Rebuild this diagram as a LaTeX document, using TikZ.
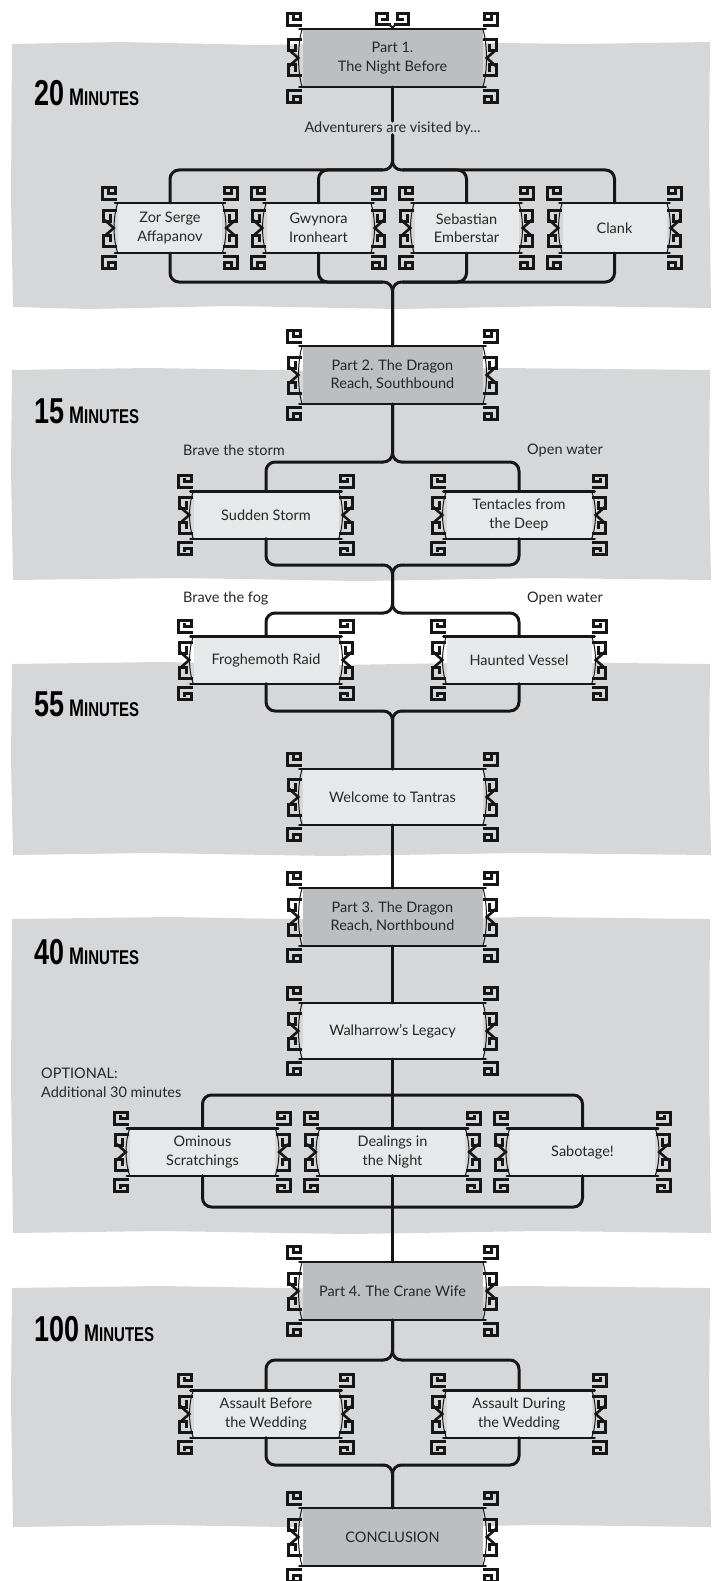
\documentclass[tikz,border=0pt]{standalone}
\usepackage{fontspec}
\setmainfont{Lato}
\newfontfamily\headfont[FakeStretch=0.75]{Liberation Sans}
\usetikzlibrary{calc}
\definecolor{band}{RGB}{214,215,217}
\definecolor{partfill}{RGB}{189,190,192}
\definecolor{lightfill}{RGB}{231,232,233}
\definecolor{ink}{RGB}{22,22,22}
\definecolor{txt}{RGB}{38,38,38}
\tikzset{
  conn/.style={line width=3pt, draw=ink, rounded corners=9pt, line cap=round},
  key/.style={line width=3pt, draw=ink, line join=miter, line cap=rect},
  edgeline/.style={line width=2.4pt, draw=ink, line cap=round},
  sideline/.style={line width=1pt, draw=ink},
  boxtext/.style={align=center, inner sep=0pt, text=txt, font=\fontsize{14.5}{18.5}\selectfont},
  partbox/.style={boxtext, rectangle, fill=partfill, minimum width=180pt, minimum height=58pt},
  widebox/.style={boxtext, rectangle, fill=lightfill, minimum width=180pt, minimum height=56pt},
  midbox/.style={boxtext, rectangle, fill=lightfill, minimum width=145pt, minimum height=47pt},
  smallbox/.style={boxtext, rectangle, fill=lightfill, minimum width=104pt, minimum height=50pt},
  lab/.style={inner sep=0pt, text=txt, font=\fontsize{14.5}{19}\selectfont, align=left},
  timelab/.style={inner sep=0pt, text=black, anchor=base west, font=\headfont\bfseries},
  cornerkey/.pic={\draw[key] (-2,-3.5) -- (-15,-3.5) -- (-15,-15.5) -- (-2,-15.5) -- (-2,-9.5) -- (-9,-9.5) -- (-9,-12);},
  sidekey/.pic={
    \draw[key] (-2,-18) -- (-14,-18) -- (-14,-7) -- (-7,-7) -- (-7,-12.5);
    \draw[key] (-2,18) -- (-14,18) -- (-14,7) -- (-7,7) -- (-7,12.5);
    \draw[key, line width=2.6pt] (-12,-7) -- (-4,0) -- (-12,7);},
  topkey/.pic={
    \draw[key] (3,-4) -- (16,-4) -- (16,-15.5) -- (5,-15.5) -- (5,-9.5) -- (10,-9.5);
    \draw[key] (-3,-4) -- (-16,-4) -- (-16,-15.5) -- (-5,-15.5) -- (-5,-9.5) -- (-10,-9.5);
    \draw[key, line width=2pt] (-3,-4) -- (0,-1) -- (3,-4);}
}
\newcommand\ornframe[1]{%
  \draw[edgeline] ($(#1.north west)+(-3,0)$) -- ($(#1.north east)+(3,0)$);
  \draw[edgeline] ($(#1.south west)+(-3,0)$) -- ($(#1.south east)+(3,0)$);
  \draw[sideline] (#1.north west) .. controls +(-5,14) and +(-5,-14) .. (#1.south west);
  \draw[sideline] (#1.north east) .. controls +(5,14) and +(5,-14) .. (#1.south east);
  \pic at (#1.north west) {cornerkey};
  \pic[xscale=-1] at (#1.north east) {cornerkey};
  \pic[yscale=-1] at (#1.south west) {cornerkey};
  \pic[xscale=-1,yscale=-1] at (#1.south east) {cornerkey};
  \pic at (#1.west) {sidekey};
  \pic[xscale=-1] at (#1.east) {sidekey};
}
\newcommand\mins[1]{{\fontsize{36}{36}\selectfont #1}\hspace{5pt}{\fontsize{24}{24}\selectfont M}{\fontsize{20}{20}\selectfont INUTES}}
\begin{document}
\begin{tikzpicture}[x=1pt,y=-1pt]
\useasboundingbox (0,0) rectangle (718,1581);
% bands
\fill[band] (12,44) -- (120,42) -- (260,45) -- (420,42) -- (580,44) -- (710,42) -- (709,150) -- (711,308) -- (560,306) -- (400,309) -- (230,306) -- (90,309) -- (13,307) -- (11,200) -- cycle;
\fill[band] (12,370) -- (150,368) -- (330,371) -- (500,368) -- (710,370) -- (709,480) -- (711,580) -- (540,578) -- (360,581) -- (180,578) -- (13,580) -- (11,470) -- cycle;
\fill[band] (12,664) -- (160,662) -- (340,665) -- (520,662) -- (710,664) -- (709,760) -- (711,855) -- (520,853) -- (330,856) -- (150,853) -- (13,855) -- (11,760) -- cycle;
\fill[band] (12,919) -- (170,917) -- (350,920) -- (530,917) -- (710,919) -- (709,1080) -- (711,1233) -- (540,1231) -- (350,1234) -- (160,1231) -- (13,1233) -- (11,1080) -- cycle;
\fill[band] (12,1288) -- (160,1286) -- (340,1289) -- (520,1286) -- (710,1288) -- (709,1400) -- (711,1527) -- (540,1525) -- (350,1528) -- (160,1525) -- (13,1527) -- (11,1400) -- cycle;
% time labels
\node[timelab] (t20) at (34,106) {\mins{20}};
\node[timelab] (t15) at (34,423) {\mins{15}};
\node[timelab] (t55) at (34,716) {\mins{55}};
\node[timelab] (t40) at (34,964) {\mins{40}};
\node[timelab] (t100) at (34,1341) {\mins{100}};
% coordinates of junctions
\coordinate (a1L) at (382,170); \coordinate (a1R) at (403,170);
\coordinate (b1L) at (382,282); \coordinate (b1R) at (403,282);
\coordinate (a2L) at (382,462); \coordinate (a2R) at (403,462);
\coordinate (b2L) at (382,565); \coordinate (b2R) at (403,565);
\coordinate (j1) at (392.5,589);
\coordinate (a3L) at (382,613); \coordinate (a3R) at (403,613);
\coordinate (b3L) at (382,711); \coordinate (b3R) at (403,711);
\coordinate (a5L) at (382,1360); \coordinate (a5R) at (403,1360);
\coordinate (b5L) at (382,1465); \coordinate (b5R) at (403,1465);
% nodes
\node[partbox] (p1) at (392.5,58) {Part 1.\\The Night Before};
\node[lab] (visit) at (392.5,128) {Adventurers are visited by...};
\node[smallbox] (zor) at (170,228) {Zor Serge\\Affapanov};
\node[smallbox] (gwy) at (318.5,228) {Gwynora\\Ironheart};
\node[smallbox] (seb) at (466.5,228) {Sebastian\\Emberstar};
\node[smallbox] (clank) at (614.5,228) {Clank};
\node[partbox] (p2) at (392.5,375) {Part 2. The Dragon\\Reach, Southbound};
\node[lab, anchor=west] (ls1) at (183,450) {Brave the storm};
\node[lab, anchor=east] (lo1) at (603,450) {Open water};
\node[midbox] (storm) at (266,515) {Sudden Storm};
\node[midbox] (tent) at (519,515) {Tentacles from\\the Deep};
\node[lab, anchor=west] (ls2) at (183,598) {Brave the fog};
\node[lab, anchor=east] (lo2) at (603,598) {Open water};
\node[midbox] (frog) at (266,660) {Froghemoth Raid};
\node[midbox] (haunt) at (519,660) {Haunted Vessel};
\node[widebox] (tantras) at (392.5,797) {Welcome to Tantras};
\node[partbox] (p3) at (392.5,917) {Part 3. The Dragon\\Reach, Northbound};
\node[widebox] (wal) at (392.5,1031) {Walharrow’s Legacy};
\node[lab, anchor=north west] (opt) at (41,1068) {OPTIONAL:\\Additional 30 minutes};
\node[midbox] (omin) at (202.5,1152) {Ominous\\Scratchings};
\node[midbox] (deal) at (392.5,1152) {Dealings in\\the Night};
\node[midbox] (sab) at (582.5,1152) {Sabotage!};
\node[partbox] (p4) at (392.5,1291) {Part 4. The Crane Wife};
\node[midbox] (before) at (266,1414) {Assault Before\\the Wedding};
\node[midbox] (during) at (519,1414) {Assault During\\the Wedding};
\node[partbox] (concl) at (392.5,1537) {CONCLUSION};
% connectors level 1
\draw[conn] (p1.south) -- (visit.north);
\draw[conn] (visit.south) |- (a1L);
\draw[conn] (visit.south) |- (a1R);
\draw[conn] (zor.north) |- (a1L);
\draw[conn] (gwy.north) |- (a1L);
\draw[conn] (seb.north) |- (a1R);
\draw[conn] (clank.north) |- (a1R);
\draw[conn] (zor.south) |- (b1L);
\draw[conn] (gwy.south) |- (b1L);
\draw[conn] (seb.south) |- (b1R);
\draw[conn] (clank.south) |- (b1R);
\draw[conn] (p2.north) |- (b1L);
\draw[conn] (p2.north) |- (b1R);
% level 2
\draw[conn] (p2.south) |- (a2L);
\draw[conn] (p2.south) |- (a2R);
\draw[conn] (storm.north) |- (a2L);
\draw[conn] (tent.north) |- (a2R);
\draw[conn] (storm.south) |- (b2L);
\draw[conn] (tent.south) |- (b2R);
\draw[conn] (j1) |- (b2L);
\draw[conn] (j1) |- (b2R);
\draw[conn] (j1) |- (a3L);
\draw[conn] (j1) |- (a3R);
\draw[conn] (frog.north) |- (a3L);
\draw[conn] (haunt.north) |- (a3R);
\draw[conn] (frog.south) |- (b3L);
\draw[conn] (haunt.south) |- (b3R);
\draw[conn] (tantras.north) |- (b3L);
\draw[conn] (tantras.north) |- (b3R);
\draw[conn] (tantras.south) -- (p3.north);
% level 3
\draw[conn] (p3.south) -- (wal.north);
\draw[conn] (wal.south) -- (deal.north);
\draw[conn] (omin.north) |- (392.5,1095) -| (sab.north);
\draw[conn] (omin.south) |- (392.5,1207) -| (sab.south);
\draw[conn] (deal.south) -- (p4.north);
% level 4
\draw[conn] (p4.south) |- (a5L);
\draw[conn] (p4.south) |- (a5R);
\draw[conn] (before.north) |- (a5L);
\draw[conn] (during.north) |- (a5R);
\draw[conn] (before.south) |- (b5L);
\draw[conn] (during.south) |- (b5R);
\draw[conn] (concl.north) |- (b5L);
\draw[conn] (concl.north) |- (b5R);
% frames
\foreach \n in {p1,zor,gwy,seb,clank,p2,storm,tent,frog,haunt,tantras,p3,wal,omin,deal,sab,p4,before,during,concl}{\ornframe{\n}}
\pic at (p1.north) {topkey};
\end{tikzpicture}
\end{document}
